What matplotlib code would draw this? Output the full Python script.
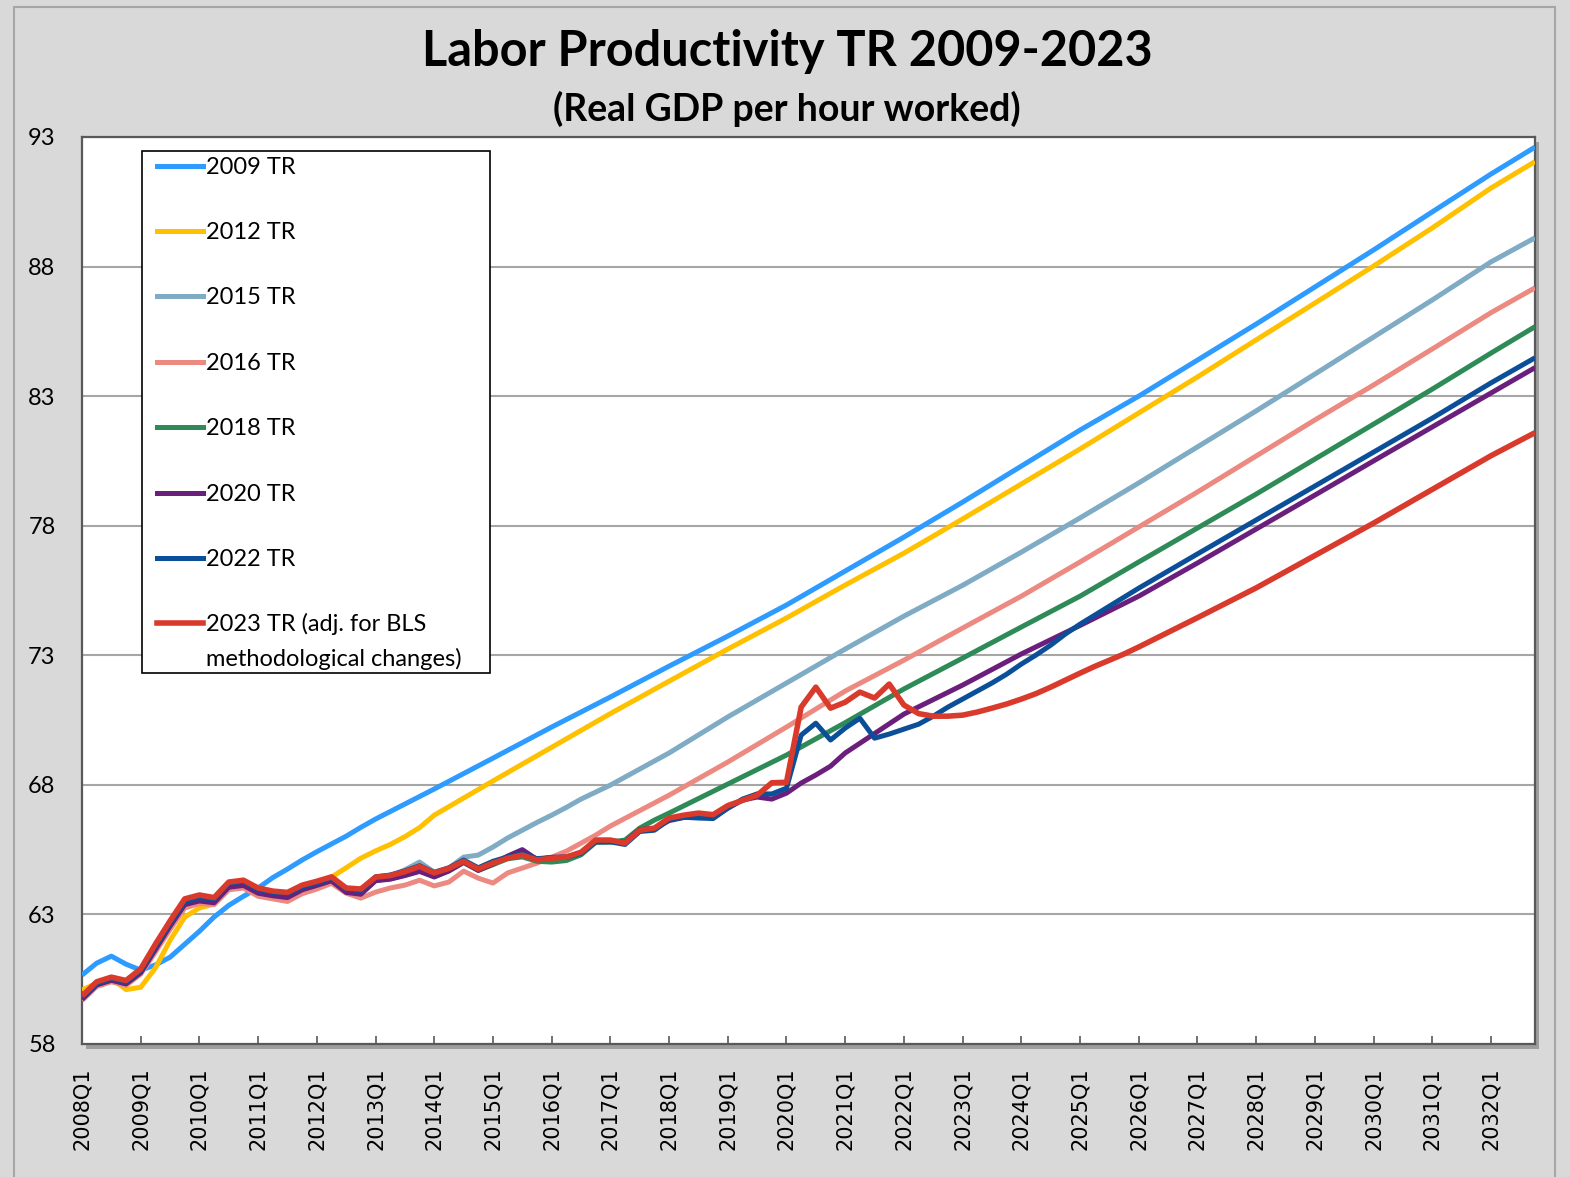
import matplotlib
matplotlib.use("Agg")
import matplotlib.pyplot as plt
from matplotlib.patches import Rectangle
from matplotlib.lines import Line2D

# ---------------- data ----------------
years = list(range(2008, 2033))
quarters = [f"{y}Q{q}" for y in years for q in range(1, 5)]   # 2008Q1 .. 2032Q4
tick_labels = [f"{y}Q1" for y in years]

y_ticks = [58, 63, 68, 73, 78, 83, 88, 93]

# each series: quarterly values from 2008Q1, then one value per year (Q1) and the final 2032Q4 value
tr2009_qtr = [60.66, 61.12, 61.39, 61.08, 60.85, 61.05, 61.35, 61.85, 62.35, 62.90,
              63.35, 63.70, 64.02, 64.42, 64.75, 65.10, 65.42, 65.72, 66.02, 66.36]
tr2009_ann = [66.68, 67.84, 69.03, 70.23, 71.39, 72.58, 73.74, 74.94, 76.25, 77.56,
              78.91, 80.30, 81.69, 83.00, 84.39, 85.78, 87.21, 88.64, 90.11, 91.57, 92.61]

tr2012_qtr = [60.08, 60.35, 60.54, 60.10, 60.19, 60.93, 62.00, 62.90, 63.25, 63.40,
              64.05, 64.10, 63.80, 63.72, 63.65, 63.95, 64.10, 64.44, 64.80, 65.17,
              65.45, 65.70, 66.00, 66.35]
tr2012_ann = [66.83, 68.15, 69.45, 70.75, 72.00, 73.24, 74.44, 75.71, 76.94, 78.26,
              79.61, 80.96, 82.35, 83.74, 85.17, 86.59, 88.02, 89.49, 91.03, 92.05]

tr2015_qtr = [59.78, 60.32, 60.50, 60.36, 60.80, 61.72, 62.62, 63.45, 63.60, 63.52,
              64.12, 64.18, 63.88, 63.78, 63.72, 64.00, 64.15, 64.32, 63.92, 63.85,
              64.38, 64.48, 64.72, 65.02, 64.63, 64.79, 65.21, 65.29, 65.60, 65.95,
              66.25, 66.55, 66.83, 67.13, 67.45, 67.72]
tr2015_ann = [67.99, 69.23, 70.62, 71.93, 73.24, 74.51, 75.70, 76.98, 78.30, 79.65,
              81.04, 82.43, 83.85, 85.28, 86.71, 88.18, 89.11]

tr2016_qtr = [59.68, 60.22, 60.40, 60.26, 60.70, 61.55, 62.42, 63.25, 63.42, 63.38,
              63.95, 64.02, 63.70, 63.60, 63.50, 63.80, 63.98, 64.20, 63.82, 63.63,
              63.86, 64.02, 64.13, 64.32, 64.10, 64.25, 64.67, 64.40, 64.21, 64.60,
              64.79, 64.98, 65.21, 65.44, 65.75, 66.06]
tr2016_ann = [66.41, 67.60, 68.88, 70.23, 71.62, 72.81, 74.05, 75.28, 76.60, 77.95,
              79.30, 80.69, 82.08, 83.43, 84.82, 86.22, 87.18]

tr2018_qtr = [59.75, 60.30, 60.48, 60.34, 60.78, 61.70, 62.60, 63.42, 63.55, 63.50,
              64.10, 64.15, 63.85, 63.75, 63.70, 63.98, 64.15, 64.32, 63.88, 63.80,
              64.32, 64.38, 64.52, 64.68, 64.45, 64.68, 65.00, 64.70, 64.92, 65.15,
              65.22, 65.05, 65.02, 65.08, 65.30, 65.78, 65.79, 65.87, 66.33, 66.64]
tr2018_ann = [66.91, 68.03, 69.15, 70.40, 71.70, 72.89, 74.09, 75.28, 76.60, 77.91,
              79.22, 80.57, 81.92, 83.27, 84.66, 85.68]

tr2020_qtr = [59.72, 60.28, 60.46, 60.32, 60.75, 61.65, 62.55, 63.38, 63.52, 63.45,
              64.05, 64.12, 63.82, 63.72, 63.65, 63.95, 64.12, 64.30, 63.85, 63.78,
              64.30, 64.36, 64.50, 64.66, 64.45, 64.68, 65.02, 64.70, 64.95, 65.25,
              65.50, 65.12, 65.20, 65.22, 65.38, 65.85, 65.85, 65.78, 66.28, 66.32,
              66.62, 66.74, 66.82, 66.74, 67.10, 67.41, 67.53, 67.45, 67.68, 68.07,
              68.38, 68.72]
tr2020_ann = [69.23, 70.73, 71.85, 73.05, 74.15, 75.28, 76.56, 77.87, 79.18, 80.50,
              81.81, 83.12, 84.10]

tr2022_qtr = [59.80, 60.33, 60.52, 60.38, 60.82, 61.75, 62.65, 63.48, 63.65, 63.58,
              64.20, 64.28, 63.95, 63.85, 63.80, 64.05, 64.22, 64.40, 63.98, 63.92,
              64.45, 64.52, 64.68, 64.88, 64.62, 64.80, 65.10, 64.80, 65.05, 65.22,
              65.35, 65.15, 65.20, 65.20, 65.35, 65.80, 65.80, 65.70, 66.20, 66.25,
              66.65, 66.75, 66.72, 66.70, 67.10, 67.45, 67.65, 67.65, 67.87, 69.92,
              70.38, 69.73, 70.19, 70.57, 69.80, 69.96, 70.15, 70.34, 70.65, 71.00,
              71.31, 71.62, 71.93, 72.27, 72.66, 73.01, 73.39, 73.82]
tr2022_ann = [74.20, 75.59, 76.91, 78.22, 79.53, 80.84, 82.15, 83.51, 84.48]

tr2023_qtr = [59.85, 60.40, 60.58, 60.45, 60.90, 61.85, 62.75, 63.60, 63.75, 63.65,
              64.25, 64.32, 64.02, 63.90, 63.85, 64.13, 64.28, 64.45, 64.02, 63.98,
              64.44, 64.50, 64.65, 64.85, 64.60, 64.78, 65.05, 64.75, 64.98, 65.17,
              65.29, 65.10, 65.17, 65.21, 65.40, 65.87, 65.87, 65.75, 66.25, 66.33,
              66.72, 66.83, 66.91, 66.85, 67.20, 67.40, 67.60, 68.08, 68.10, 71.00,
              71.77, 70.96, 71.19, 71.58, 71.35, 71.89, 71.08, 70.75, 70.65, 70.65,
              70.69, 70.81, 70.96, 71.12, 71.31, 71.52, 71.77, 72.04, 72.31, 72.57,
              72.81, 73.05]
tr2023_ann = [73.32, 74.45, 75.60, 76.85, 78.10, 79.40, 80.70, 81.59]

series_names = ["2009 TR", "2012 TR", "2015 TR", "2016 TR", "2018 TR", "2020 TR", "2022 TR",
                "2023 TR (adj. for BLS\nmethodological changes)"]
series_qtr = [tr2009_qtr, tr2012_qtr, tr2015_qtr, tr2016_qtr, tr2018_qtr, tr2020_qtr, tr2022_qtr, tr2023_qtr]
series_ann = [tr2009_ann, tr2012_ann, tr2015_ann, tr2016_ann, tr2018_ann, tr2020_ann, tr2022_ann, tr2023_ann]
colors = ["#2D9BFF", "#FFC000", "#7FABC4", "#EC8A82", "#2E8B57", "#6B1F7C", "#0B4F99", "#D93A2B"]
widths = [3.6, 3.6, 3.6, 3.6, 3.6, 3.6, 3.6, 4.0]

# ---------------- figure ----------------
W, H = 1570, 1177
fig = plt.figure(figsize=(W / 100, H / 100), dpi=100, facecolor="#D9D9D9")

def fx(px):
    return px / W

def fy(py):
    return 1 - py / H

# outer chart border
fig.add_artist(Rectangle((fx(14), fy(1200)), fx(1555) - fx(14), fy(7) - fy(1200),
                         transform=fig.transFigure, fill=False, edgecolor="#A6A6A6", lw=1.5))

L, R, T, B = 82, 1535, 137, 1044
# shadow of plot area
fig.add_artist(Rectangle((fx(L + 4), fy(B + 5)), fx(R) - fx(L), fy(T) - fy(B),
                         transform=fig.transFigure, facecolor="#9E9E9E", edgecolor="none", zorder=0))
ax = fig.add_axes([fx(L), fy(B), fx(R) - fx(L), fy(T) - fy(B)], zorder=1)
ax.set_facecolor("white")

n = len(quarters)
for name, qv, av, c, w in zip(series_names, series_qtr, series_ann, colors, widths):
    xs = list(range(len(qv)))
    start = len(qv)
    ann_idx = list(range(start, n - 3 + 1, 4))[:len(av) - 1] + [n - 1]
    xs += ann_idx
    ys = list(qv) + list(av)
    ax.plot(xs, ys, color=c, lw=w, solid_joinstyle="round", solid_capstyle="butt", zorder=3)

ax.set_xlim(0, n - 1)
ax.set_ylim(58, 93)
ax.set_yticks(y_ticks)
ax.set_yticklabels([str(v) for v in y_ticks], fontsize=17, family="Lato")
ax.tick_params(axis="y", length=0, pad=19)

tick_pos = [quarters.index(t) for t in tick_labels]
ax.set_xticks(tick_pos)
ax.set_xticklabels(tick_labels, rotation=90, fontsize=15, family="DejaVu Sans")
ax.tick_params(axis="x", direction="in", length=6, width=1.2, color="#595959", pad=17)

ax.grid(axis="y", color="#A6A6A6", lw=1.5, zorder=1)
ax.set_axisbelow(True)
for s in ax.spines.values():
    s.set_color("#595959")
    s.set_linewidth(1.6)

# titles
fig.text(0.5013, fy(66), "Labor Productivity TR 2009-2023", ha="center", va="baseline",
         fontsize=35, fontweight="bold", family="Lato")
fig.text(0.5013, fy(121), "(Real GDP per hour worked)", ha="center", va="baseline",
         fontsize=27, fontweight="bold", family="Lato")

# legend box (manual, to keep the handle on the first line of the two-line label)
lx0, ly0, lx1, ly1 = 142, 151, 490, 673
fig.add_artist(Rectangle((fx(lx0), fy(ly1)), fx(lx1) - fx(lx0), fy(ly0) - fy(ly1),
                         transform=fig.transFigure, facecolor="white", edgecolor="black", lw=1.2, zorder=5))
entry_y = [166, 231, 296, 362, 427, 493, 558, 623]
for name, c, w, yy in zip(series_names, colors, widths, entry_y):
    fig.add_artist(Line2D([fx(157), fx(203)], [fy(yy), fy(yy)], transform=fig.transFigure,
                          color=c, lw=w, zorder=6))
    for k, line in enumerate(name.split("\n")):
        fig.text(fx(206), fy(yy + 8 + 35 * k), line, ha="left", va="baseline", fontsize=17,
                 family="Lato", zorder=6)

fig.savefig("out.png", dpi=100, facecolor=fig.get_facecolor())
